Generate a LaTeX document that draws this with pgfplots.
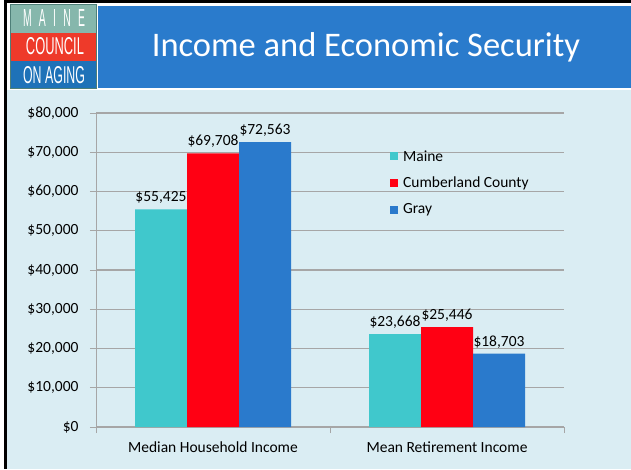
\documentclass[border=0pt]{standalone}
\usepackage{pgfplots}
\pgfplotsset{compat=1.18}
\usepackage{fontspec}
\setmainfont{Carlito}
\newfontfamily\logofont{Liberation Sans}
\usepackage{graphicx}
\definecolor{bgblue}{RGB}{218,237,243}
\definecolor{banner}{RGB}{42,123,204}
\definecolor{logoteal}{RGB}{134,183,172}
\definecolor{logored}{RGB}{238,58,42}
\definecolor{logoblue}{RGB}{30,114,184}
\definecolor{logoborder}{RGB}{78,127,120}
\definecolor{gridgray}{RGB}{166,166,166}
\definecolor{cteal}{RGB}{64,200,204}
\definecolor{cred}{RGB}{255,0,19}
\definecolor{cblue}{RGB}{42,122,204}
\begin{document}
\begin{tikzpicture}
\useasboundingbox (0pt,0pt) rectangle (631pt,469pt);
\fill[white] (0pt,0pt) rectangle (631pt,469pt);
\fill[bgblue] (7pt,0pt) rectangle (631pt,379pt);
\fill[black] (4pt,0pt) rectangle (7pt,469pt);
\fill[black] (4pt,466pt) rectangle (631pt,469pt);
\fill[banner] (98pt,381pt) rectangle (631pt,463pt);
\fill[logoteal] (10pt,436pt) rectangle (96pt,464pt);
\fill[logored] (10pt,408pt) rectangle (96pt,436pt);
\fill[logoblue] (10pt,380pt) rectangle (96pt,408pt);
\draw[logoborder, line width=1pt] (10pt,380pt) rectangle (96pt,464pt);
\node[white, inner sep=0pt] at (54pt,450.5pt) {\resizebox{62pt}{17pt}{\logofont M\hspace{0.7em}A\hspace{0.7em}I\hspace{0.7em}N\hspace{0.7em}E}};
\node[white, inner sep=0pt] at (55pt,422.5pt) {\resizebox{58pt}{17pt}{\logofont COUNCIL}};
\node[white, inner sep=0pt] at (54pt,393.5pt) {\resizebox{62pt}{17pt}{\logofont ON\hspace{0.3em}AGING}};
\node[white, anchor=base, inner sep=0pt, font=\fontsize{34.5}{40}\selectfont] at (366pt,412pt) {Income and Economic Security};
\begin{axis}[
  at={(96pt,42pt)}, anchor=south west, scale only axis, width=468pt, height=314pt,
  xmin=-0.5, xmax=1.5, ymin=0, ymax=80000,
  ybar=0pt, bar width=52pt,
  axis x line*=bottom, axis y line*=left,
  axis line style={draw=gridgray, line width=1pt, -},
  ymajorgrids, major grid style={draw=gridgray, line width=1.3pt},
  ytick={0,10000,...,80000},
  scaled y ticks=false,
  yticklabel={\textdollar\pgfmathprintnumber[fixed, precision=0, 1000 sep={,}, assume math mode=true]{\tick}},
  yticklabel style={xshift=-8pt},
  tick align=outside,
  major tick length=6pt,
  ytick style={draw=gridgray, line width=1pt},
  xtick={-0.5,0.5,1.5}, xticklabels={},
  xtick style={draw=gridgray, line width=1pt},
  extra x ticks={0,1},
  extra x tick labels={Median Household Income, Mean Retirement Income},
  extra x tick style={grid=none, major tick length=0pt, tick label style={yshift=-11pt}},
  tick label style={font=\fontsize{15.5}{18}\selectfont, text=black},
  nodes near coords={\textdollar\pgfmathprintnumber[fixed, precision=0, 1000 sep={,}, assume math mode=true]{\pgfplotspointmeta}},
  every node near coord/.append style={font=\fontsize{15.5}{18}\selectfont, text=black, yshift=2pt},
  legend style={draw=none, fill=none, at={(0.628,0.888)}, anchor=north west, inner sep=0pt, row sep=10.5pt, column sep=3pt, nodes={inner sep=2pt, text=black}, font=\fontsize{15.5}{18}\selectfont},
  legend cell align=left,
  legend image code/.code={\fill[#1] (0pt,-4pt) rectangle (8pt,4pt);},
]
\addplot[fill=cteal, draw=none] coordinates {(0,55425) (1,23668)};
\addplot[fill=cred, draw=none] coordinates {(0,69708) (1,25446)};
\addplot[fill=cblue, draw=none] coordinates {(0,72563) (1,18703)};
\legend{Maine, Cumberland County, Gray}
\end{axis}
\end{tikzpicture}
\end{document}
